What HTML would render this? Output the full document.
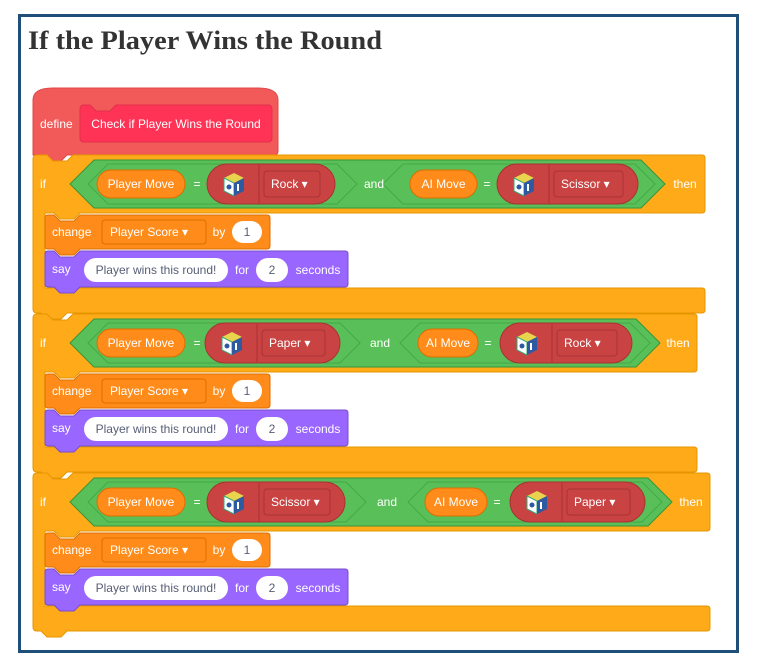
<!DOCTYPE html>
<html><head><meta charset="utf-8"><style>
html,body{margin:0;padding:0;background:#fff;width:762px;height:672px;overflow:hidden}
svg text{font-family:"Liberation Sans",sans-serif}
</style></head><body>
<svg id="s" width="762" height="672" xmlns="http://www.w3.org/2000/svg">
<rect x="19.5" y="15.5" width="718" height="636" fill="#fff" stroke="#1f4e79" stroke-width="3"/>
<text x="28" y="49" font-weight="bold" font-size="26" fill="#333" textLength="354" lengthAdjust="spacingAndGlyphs" style="font-family:'Liberation Serif',serif">If the Player Wins the Round</text>
</svg>
<script>
const s=document.getElementById('s');let h='';
const OR='#FFAB19',VO='#FF8C1A',GR='#59C059',RD='#C94343',PU='#9966FF',DF='#F25A5A';
function t(x,y,str,fs,fill,anchor){return `<text x="${x}" y="${y}" font-size="${fs||12}" fill="${fill||'#fff'}" text-anchor="${anchor||'start'}" dominant-baseline="central">${str}</text>`}
function pill(x,y,w,hh,fill,stroke){return `<rect x="${x}" y="${y}" width="${w}" height="${hh}" rx="${hh/2}" fill="${fill}" ${stroke?`stroke="${stroke}"`:''}/>`}
function hex(x1,x2,y1,y2,fill,stroke){const m=(y1+y2)/2,d=(y2-y1)/2;return `<polygon points="${x1},${m} ${x1+d},${y1} ${x2-d},${y1} ${x2},${m} ${x2-d},${y2} ${x1+d},${y2}" fill="${fill}" stroke="${stroke}" stroke-width="1"/>`}
function cube(cx,cy){return `<g transform="translate(${cx},${cy})"><polygon points="0,-11 10,-6 0,-1 -10,-6" fill="#e8d44d"/><polygon points="-10,-6 0,-1 0,12 -10,7" fill="#fff" stroke="#3a7" stroke-width="1"/><polygon points="10,-6 0,-1 0,12 10,7" fill="#2d5aa0"/><circle cx="-5" cy="3" r="2.5" fill="#2d5aa0"/><rect x="3" y="0" width="2" height="7" fill="#fff"/></g>`}
function ifblock(top,right,row){
 const H=58;
 h+=`<path d="M33,${top+4} q0,-4 4,-4 h10 l6,6 h14 l6,-6 H${right-3} q3,0 3,3 V${top+H-3} q0,3 -3,3 H80 l-6,6 h-14 l-6,-6 H45 V${top+H+(row.bh)} H${right-3} q3,0 3,3 V${top+H+row.bh+25-3} q0,3 -3,3 H67 l-6,6 h-14 l-6,-6 H37 q-4,0 -4,-4 Z" fill="${OR}" stroke="#e69500" stroke-width="1"/>`;
 h+=t(40,top+29,'if',12);
 const y1=top+5,y2=top+53,cy=top+29;
 h+=hex(70,row.g2,y1,y2,GR,'#389438');
 h+=hex(row.h1a,row.h1b,y1+4,y2-4,GR,'#45a845');
 h+=hex(row.h2a,row.h2b,y1+4,y2-4,GR,'#45a845');
 h+=pill(97,cy-14,88,28,VO,'#db6e00')+t(141,cy,'Player Move',12,'#fff','middle');
 h+=t(197,cy,'=',12,'#fff','middle');
 h+=pill(row.r1a,cy-20,row.r1b-row.r1a,40,RD,'#a83232')+cube(row.r1a+27,cy);
 h+=`<line x1="${row.r1a+52}" y1="${cy-19}" x2="${row.r1a+52}" y2="${cy+19}" stroke="#a83232"/>`;
 h+=`<rect x="${row.r1a+57}" y="${cy-13}" width="${row.r1b-row.r1a-72}" height="26" rx="3" fill="${RD}" stroke="#a33"/>`;
 h+=t(row.r1a+64,cy,row.v1+' ▾',12,'#fff');
 h+=t(row.and,cy,'and',12,'#fff','middle');
 h+=pill(row.a1,cy-14,row.a2-row.a1,28,VO,'#db6e00')+t((row.a1+row.a2)/2,cy,'AI Move',12,'#fff','middle');
 h+=t(row.a2+10,cy,'=',12,'#fff','middle');
 h+=pill(row.r2a,cy-20,row.r2b-row.r2a,40,RD,'#a83232')+cube(row.r2a+27,cy);
 h+=`<line x1="${row.r2a+52}" y1="${cy-19}" x2="${row.r2a+52}" y2="${cy+19}" stroke="#a83232"/>`;
 h+=`<rect x="${row.r2a+57}" y="${cy-13}" width="${row.r2b-row.r2a-72}" height="26" rx="3" fill="${RD}" stroke="#a33"/>`;
 h+=t(row.r2a+64,cy,row.v2+' ▾',12,'#fff');
 h+=t(row.then,cy,'then',12,'#fff','middle');
 const c=top+H+2;
 h+=`<path d="M45,${c+3} q0,-3 3,-3 h6 l6,6 h14 l6,-6 H267 q3,0 3,3 V${c+31} q0,3 -3,3 H80 l-6,6 h-14 l-6,-6 H48 q-3,0 -3,-3 Z" fill="${VO}" stroke="#db6e00"/>`;
 h+=t(52,c+17,'change',12);
 h+=`<rect x="102" y="${c+5}" width="104" height="24" rx="3" fill="${VO}" stroke="#db6e00"/>`+t(110,c+17,'Player Score ▾',12);
 h+=t(219,c+17,'by',12,'#fff','middle');
 h+=pill(232,c+6,30,22,'#fff')+t(247,c+17,'1',12,'#575e75','middle');
 const sy=c+36;
 h+=`<path d="M45,${sy+3} q0,-3 3,-3 h6 l6,6 h14 l6,-6 H345 q3,0 3,3 V${sy+33} q0,3 -3,3 H80 l-6,6 h-14 l-6,-6 H48 q-3,0 -3,-3 Z" fill="${PU}" stroke="#774dcb"/>`;
 h+=t(52,sy+18,'say',12);
 h+=pill(84,sy+7,144,24,'#fff')+t(156,sy+19,'Player wins this round!',12,'#575e75','middle');
 h+=t(242,sy+19,'for',12,'#fff','middle');
 h+=pill(256,sy+7,32,24,'#fff')+t(272,sy+19,'2',12,'#575e75','middle');
 h+=t(318,sy+19,'seconds',12,'#fff','middle');
}
h+=`<path d="M33,155 V100 q0,-12 20,-12 H258 q20,0 20,12 V151 q0,4 -4,4 H67 l-6,6 h-14 l-6,-6 Z" fill="${DF}" stroke="#e04848"/>`;
h+=t(40,124,'define',12);
h+=`<path d="M80,109 q0,-4 4,-4 h6 l6,6 h14 l6,-6 H268 q4,0 4,4 V138 q0,4 -4,4 H84 q-4,0 -4,-4 Z" fill="#FF3355" stroke="#e0304c"/>`;
h+=t(176,124,'Check if Player Wins the Round',12,'#fff','middle');
ifblock(155,705,{bh:75,g2:665,h1a:88,h1b:357,h2a:383,h2b:655,r1a:207,r1b:335,v1:'Rock',and:374,a1:410,a2:477,r2a:497,r2b:638,v2:'Scissor',then:685});
ifblock(314,697,{bh:75,g2:660,h1a:88,h1b:360,h2a:400,h2b:650,r1a:205,r1b:340,v1:'Paper',and:380,a1:418,a2:478,r2a:500,r2b:632,v2:'Rock',then:678});
ifblock(473,710,{bh:75,g2:672,h1a:88,h1b:366,h2a:408,h2b:662,r1a:207,r1b:345,v1:'Scissor',and:387,a1:425,a2:487,r2a:510,r2b:645,v2:'Paper',then:691});
s.insertAdjacentHTML('beforeend',h);
</script>
</body></html>
